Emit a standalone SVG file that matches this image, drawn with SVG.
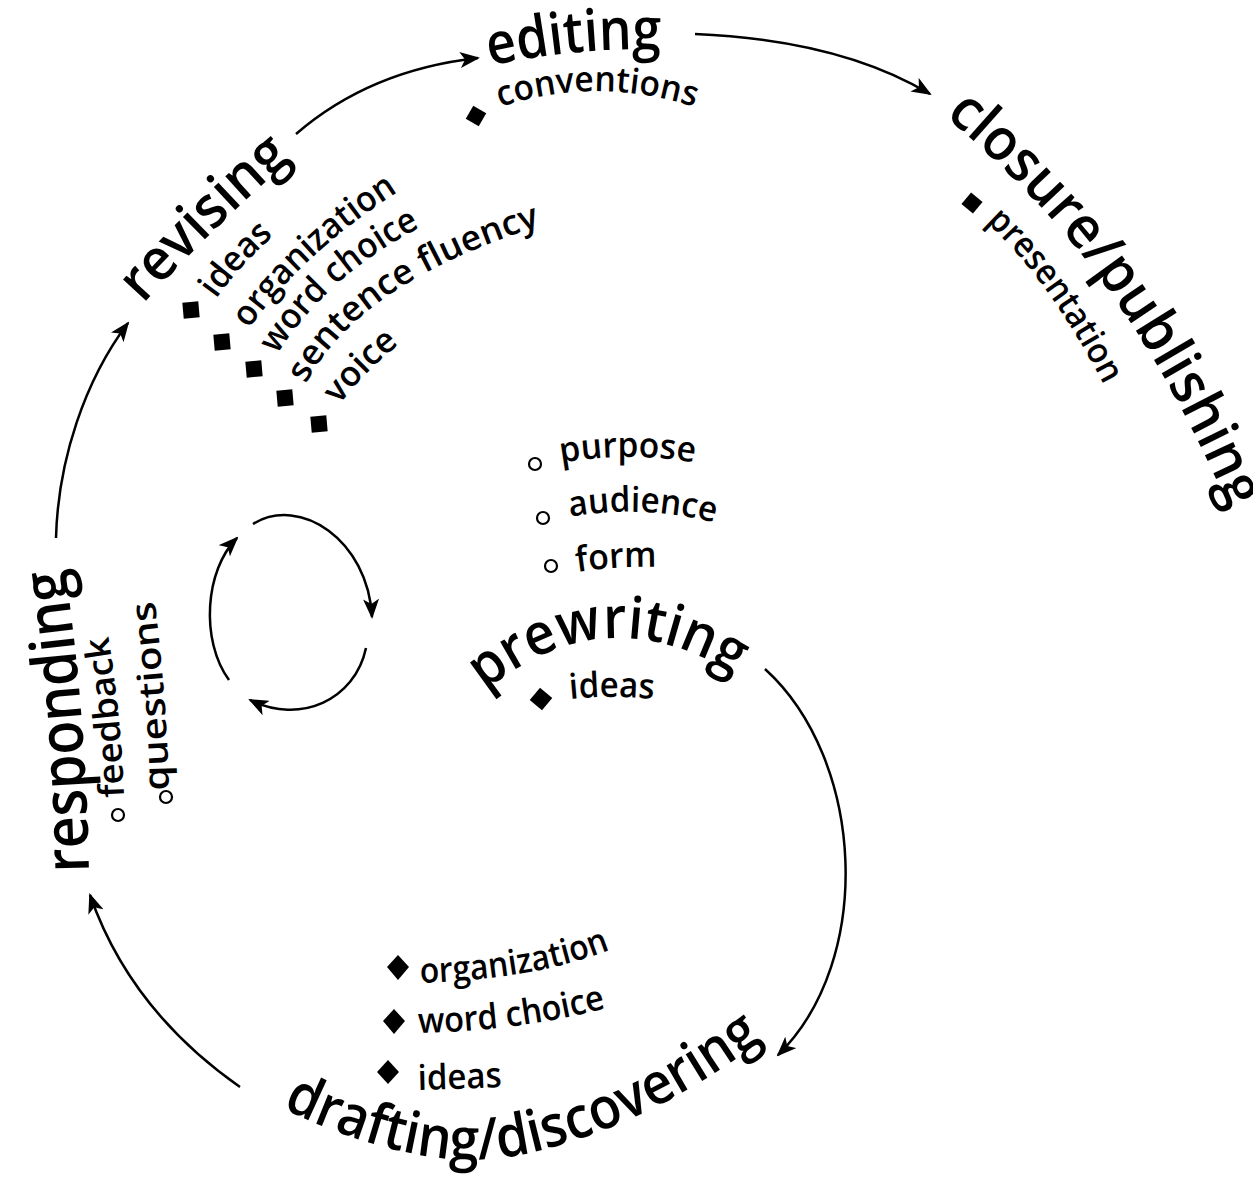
<svg xmlns="http://www.w3.org/2000/svg" width="1253" height="1183" viewBox="0 0 1253 1183">
<style>
text { font-family: "Open Sans", "Noto Sans", sans-serif; fill: #000; font-weight: 600; }
.big { font-size: 58px; }
.sm { font-size: 35px; }
.conn { fill: none; stroke: #000; stroke-width: 2.5; marker-end: url(#ah); }
.sq { fill: #000; }
.ci { fill: none; stroke: #000; stroke-width: 2.2; }
</style>
<defs>
<marker id="ah" markerUnits="userSpaceOnUse" markerWidth="20" markerHeight="16" viewBox="0 0 20 16" refX="18" refY="8" orient="auto">
<path d="M0,0 L20,8 L0,16 L5,8 Z" fill="#000"/>
</marker>
<path id="p-editing" d="M490,66 Q580,46 668,50"/>
<path id="p-conv" d="M500,107 Q600,74 704,110"/>
<path id="p-closure" d="M945,116 C1025,185 1130,280 1230,510"/>
<path id="p-present" d="M986,222 Q1055,285 1114,405"/>
<path id="p-revising" d="M143,304 Q215,225 291,160"/>
<path id="p-r-ideas" d="M216,299 Q240,265 278,232"/>
<path id="p-r-org" d="M249,329 Q305,250 404,188"/>
<path id="p-r-word" d="M277,355 Q330,270 435,220"/>
<path id="p-r-sent" d="M306,384 Q360,280 550,223"/>
<path id="p-r-voice" d="M339,405 Q370,365 410,336"/>
<path id="p-responding" d="M89,872 Q85,700 64,563"/>
<path id="p-feedback" d="M124,797 Q122,720 107,628"/>
<path id="p-questions" d="M169,790 Q167,700 154,595"/>
<path id="p-purpose" d="M561,463 Q628,451 697,463"/>
<path id="p-audience" d="M570,517 Q642,504 716,523"/>
<path id="p-form" d="M577,572 Q617,566 658,567"/>
<path id="p-prewriting" d="M485,691 Q610,590 743,681"/>
<path id="p-p-ideas" d="M570,699 Q612,695 654,699"/>
<path id="p-drafting" d="M282,1108 Q420,1175 520,1155 Q640,1130 754,1046"/>
<path id="p-d-org" d="M420,983 Q540,979 614,948"/>
<path id="p-d-word" d="M418,1033 Q520,1031 607,1008"/>
<path id="p-d-ideas" d="M418,1090 Q460,1089 502,1087"/>
</defs>

<g id="connectors">
<path class="conn" d="M56,538 C58,460 85,380 128,323"/>
<path class="conn" d="M296,134 Q370,70 478,58"/>
<path class="conn" d="M695,34 Q840,40 930,94"/>
<path class="conn" d="M765,669 C865,760 875,960 778,1055"/>
<path class="conn" d="M240,1087 Q130,1010 90,895"/>
<path class="conn" d="M253,524 C300,495 368,540 372,617"/>
<path class="conn" d="M366,648 C355,700 300,725 250,700"/>
<path class="conn" d="M229,680 C200,640 205,570 237,538"/>
</g>

<g id="editing">
<text class="big"><textPath href="#p-editing" textLength="172" lengthAdjust="spacingAndGlyphs">editing</textPath></text>
<rect class="sq" x="-7.5" y="-7.5" width="15" height="15" transform="translate(476,116) rotate(30)"/>
<text class="sm"><textPath href="#p-conv" textLength="198" lengthAdjust="spacingAndGlyphs">conventions</textPath></text>
</g>

<g id="closure">
<text class="big"><textPath href="#p-closure" textLength="492" lengthAdjust="spacingAndGlyphs">closure/publishing</textPath></text>
<rect class="sq" x="-7.5" y="-7.5" width="15" height="15" transform="translate(972,203) rotate(40)"/>
<text class="sm"><textPath href="#p-present" textLength="202" lengthAdjust="spacingAndGlyphs">presentation</textPath></text>
</g>

<g id="revising">
<text class="big"><textPath href="#p-revising" textLength="208" lengthAdjust="spacingAndGlyphs">revising</textPath></text>
<rect class="sq" x="-8" y="-8" width="16" height="16" transform="translate(191,310) rotate(-5)"/>
<rect class="sq" x="-8" y="-8" width="16" height="16" transform="translate(222,342) rotate(-5)"/>
<rect class="sq" x="-8" y="-8" width="16" height="16" transform="translate(254,369) rotate(-5)"/>
<rect class="sq" x="-8" y="-8" width="16" height="16" transform="translate(285,398) rotate(-5)"/>
<rect class="sq" x="-8" y="-8" width="16" height="16" transform="translate(319,424) rotate(-5)"/>
<text class="sm"><textPath href="#p-r-ideas" textLength="86" lengthAdjust="spacingAndGlyphs">ideas</textPath></text>
<text class="sm"><textPath href="#p-r-org" textLength="204" lengthAdjust="spacingAndGlyphs">organization</textPath></text>
<text class="sm"><textPath href="#p-r-word" textLength="194" lengthAdjust="spacingAndGlyphs">word choice</textPath></text>
<text class="sm"><textPath href="#p-r-sent" textLength="290" lengthAdjust="spacingAndGlyphs">sentence fluency</textPath></text>
<text class="sm"><textPath href="#p-r-voice" textLength="86" lengthAdjust="spacingAndGlyphs">voice</textPath></text>
</g>

<g id="responding">
<text class="big" style="font-size:62px"><textPath href="#p-responding" textLength="305" lengthAdjust="spacingAndGlyphs">responding</textPath></text>
<circle class="ci" cx="118" cy="815" r="6"/>
<circle class="ci" cx="166" cy="797" r="6"/>
<text class="sm"><textPath href="#p-feedback" textLength="162" lengthAdjust="spacingAndGlyphs">feedback</textPath></text>
<text class="sm"><textPath href="#p-questions" textLength="190" lengthAdjust="spacingAndGlyphs">questions</textPath></text>
</g>

<g id="prewriting">
<circle class="ci" cx="535" cy="464" r="6"/>
<circle class="ci" cx="543" cy="518" r="6"/>
<circle class="ci" cx="551" cy="566" r="6"/>
<text class="sm"><textPath href="#p-purpose" textLength="134" lengthAdjust="spacingAndGlyphs">purpose</textPath></text>
<text class="sm"><textPath href="#p-audience" textLength="146" lengthAdjust="spacingAndGlyphs">audience</textPath></text>
<text class="sm"><textPath href="#p-form" textLength="80" lengthAdjust="spacingAndGlyphs">form</textPath></text>
<text class="big"><textPath href="#p-prewriting" textLength="270" lengthAdjust="spacingAndGlyphs">prewriting</textPath></text>
<rect class="sq" x="-8" y="-8" width="16" height="16" transform="translate(541,699) rotate(40)"/>
<text class="sm"><textPath href="#p-p-ideas" textLength="84" lengthAdjust="spacingAndGlyphs">ideas</textPath></text>
</g>

<g id="drafting">
<polygon class="sq" points="398,955 409,967 398,980 387,967"/>
<polygon class="sq" points="394,1009 405,1021 394,1034 383,1021"/>
<polygon class="sq" points="388,1060 399,1072 388,1084 377,1072"/>
<text class="sm"><textPath href="#p-d-org" textLength="194" lengthAdjust="spacingAndGlyphs">organization</textPath></text>
<text class="sm"><textPath href="#p-d-word" textLength="190" lengthAdjust="spacingAndGlyphs">word choice</textPath></text>
<text class="sm"><textPath href="#p-d-ideas" textLength="84" lengthAdjust="spacingAndGlyphs">ideas</textPath></text>
<text class="big"><textPath href="#p-drafting" textLength="518" lengthAdjust="spacingAndGlyphs">drafting/discovering</textPath></text>
</g>
</svg>
